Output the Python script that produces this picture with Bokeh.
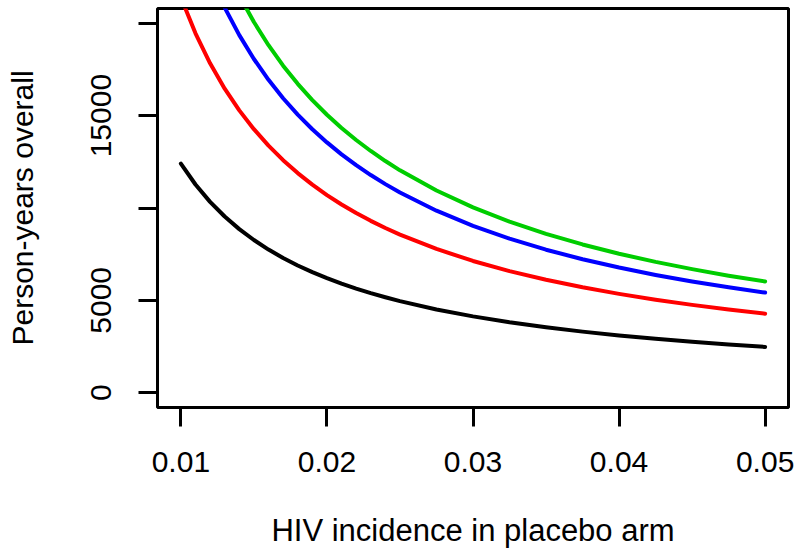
from bokeh.plotting import figure
from bokeh.models import Range1d, FixedTicker, CustomJSTickFormatter
from bokeh.embed import file_html
from bokeh.resources import INLINE

# HIV incidence in placebo arm (x) and person-years overall for four scenarios
incidence = [0.010, 0.011, 0.012, 0.013, 0.014, 0.015, 0.016, 0.017, 0.018, 0.019,
             0.020, 0.021, 0.022, 0.023, 0.024, 0.025, 0.0275, 0.030, 0.0325, 0.035,
             0.0375, 0.040, 0.0425, 0.045, 0.0475, 0.050]
py_black = [12400, 11273, 10333, 9538, 8857, 8267, 7750, 7294, 6889, 6526,
            6200, 5905, 5636, 5391, 5167, 4960, 4509, 4133, 3815, 3543,
            3307, 3100, 2918, 2756, 2611, 2480]
py_red = [21400, 19455, 17833, 16462, 15286, 14267, 13375, 12588, 11889, 11263,
          10700, 10190, 9727, 9304, 8917, 8560, 7782, 7133, 6585, 6114,
          5707, 5350, 5035, 4756, 4505, 4280]
py_blue = [27100, 24636, 22583, 20846, 19357, 18067, 16938, 15941, 15056, 14263,
           13550, 12905, 12318, 11783, 11292, 10840, 9855, 9033, 8338, 7743,
           7227, 6775, 6376, 6022, 5705, 5420]
py_green = [30100, 27364, 25083, 23154, 21500, 20067, 18813, 17706, 16722, 15842,
            15050, 14333, 13682, 13087, 12542, 12040, 10945, 10033, 9262, 8600,
            8027, 7525, 7082, 6689, 6337, 6020]

x_ticks = [0.01, 0.02, 0.03, 0.04, 0.05]
y_ticks = [0, 5000, 10000, 15000, 20000]
y_tick_labels_shown = [0, 5000, 15000]

FONT = "Liberation Sans"

p = figure(width=798, height=551, output_backend="svg", toolbar_location=None,
           x_range=Range1d(0.0084, 0.0516), y_range=Range1d(-800, 20800),
           min_border_left=157, min_border_right=10, min_border_top=8, min_border_bottom=144,
           x_axis_label="HIV incidence in placebo arm", y_axis_label="Person-years overall")

p.background_fill_color = "white"
p.border_fill_color = "white"
p.grid.visible = False
p.outline_line_color = "black"
p.outline_line_width = 3

series = [(py_black, "#000000"), (py_red, "#FF0000"), (py_blue, "#0000FF"), (py_green, "#00CD00")]
for ys, c in series:
    p.line(incidence, ys, line_color=c, line_width=4, line_cap="round", line_join="round")

p.xaxis.ticker = FixedTicker(ticks=x_ticks)
p.yaxis.ticker = FixedTicker(ticks=y_ticks)
p.xaxis.formatter = CustomJSTickFormatter(code="return tick.toFixed(2);")
p.yaxis.formatter = CustomJSTickFormatter(
    args=dict(shown=y_tick_labels_shown),
    code="return shown.includes(Math.round(tick)) ? String(Math.round(tick)) : '';")

for ax in (p.xaxis[0], p.yaxis[0]):
    ax.axis_line_color = None
    ax.major_tick_line_color = "black"
    ax.major_tick_line_width = 3
    ax.major_tick_out = 19
    ax.major_tick_in = 0
    ax.minor_tick_line_color = None
    ax.major_label_text_font = FONT
    ax.major_label_text_color = "black"
    ax.axis_label_text_font = FONT
    ax.axis_label_text_font_style = "normal"
    ax.axis_label_text_color = "black"

p.xaxis.major_label_text_font_size = "30px"
p.xaxis.axis_label_text_font_size = "31px"
p.yaxis.major_label_text_font_size = "30px"
p.yaxis.axis_label_text_font_size = "30px"

p.xaxis.major_label_standoff = 25
p.xaxis.axis_label_standoff = 38
p.yaxis.major_label_orientation = "vertical"
p.yaxis.major_label_standoff = 27
p.yaxis.axis_label_standoff = 50

open("out.html", "w").write(file_html(p, INLINE))
